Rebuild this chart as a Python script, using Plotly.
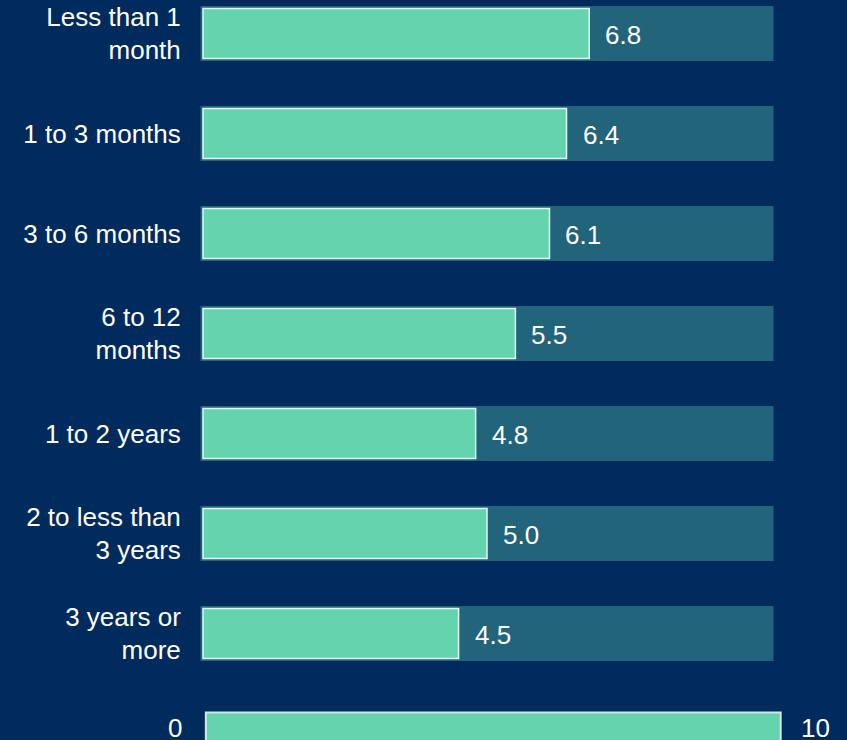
import plotly.graph_objects as go

categories = ["Less than 1<br>month", "1 to 3 months", "3 to 6 months", "6 to 12<br>months",
              "1 to 2 years", "2 to less than<br>3 years", "3 years or<br>more"]
values = [6.8, 6.4, 6.1, 5.5, 4.8, 5.0, 4.5]
scale_min = 0
scale_max = 10

BG = "#002B5C"
TEAL = "#226479"
GREEN = "#64D4AE"
FONT = dict(family="Liberation Sans, Arial, sans-serif", size=26, color="white")

pos = list(range(len(categories)))
scale_pos = len(categories) + 0.04

fig = go.Figure()
fig.add_trace(go.Bar(
    y=pos, x=[scale_max] * len(pos), base=0, orientation="h", width=0.5,
    marker=dict(color=TEAL, line=dict(color=TEAL, width=5)),
    hoverinfo="skip", showlegend=False))
fig.add_trace(go.Bar(
    y=pos, x=values, base=0, orientation="h", width=0.5,
    marker=dict(color=GREEN, line=dict(color="#E6F5EF", width=1.5)),
    showlegend=False))
# scale bar at the bottom
fig.add_trace(go.Bar(
    y=[scale_pos], x=[scale_max * 1.012], base=[0.05], orientation="h", width=0.5,
    marker=dict(color=GREEN, line=dict(color="#D6E6E2", width=2)),
    hoverinfo="skip", showlegend=False))

annotations = []
for p, v in zip(pos, values):
    annotations.append(dict(x=v, y=p, text=f"{v:.1f}", showarrow=False, xanchor="left",
                            xshift=14, yshift=-1, font=FONT))
annotations.append(dict(x=scale_min, y=scale_pos, text=str(scale_min), showarrow=False,
                        xanchor="right", xshift=-19, yshift=10, font=FONT))
annotations.append(dict(x=scale_max, y=scale_pos, text=str(scale_max), showarrow=False,
                        xanchor="left", xshift=28, yshift=10, font=FONT))

fig.update_layout(
    width=847, height=740,
    margin=dict(l=200, r=0, t=0, b=0),
    paper_bgcolor=BG, plot_bgcolor=BG,
    barmode="overlay",
    font=FONT,
    annotations=annotations,
    xaxis=dict(range=[-0.0528, 11.338], visible=False, fixedrange=True),
    yaxis=dict(range=[7.065, -0.335], tickvals=pos, ticktext=categories,
               showgrid=False, zeroline=False, showline=False, fixedrange=True,
               ticks="outside", ticklen=13, tickcolor=BG, tickfont=FONT),
)

fig.write_html("out.html", config={"displayModeBar": False},
               post_script="document.body.style.margin='0';document.body.style.overflow='hidden';")
